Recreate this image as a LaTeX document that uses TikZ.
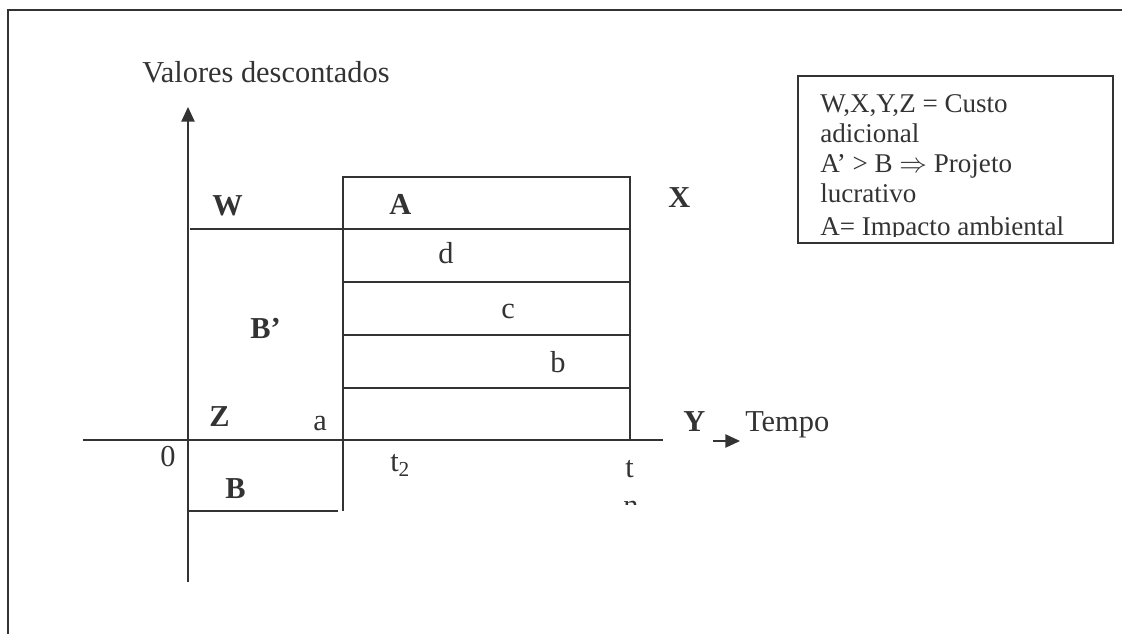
\documentclass[tikz,border=0pt]{standalone}
\usepackage{fontspec}
\setmainfont{Liberation Serif}
\usetikzlibrary{arrows.meta}
\definecolor{ink}{HTML}{333333}

\begin{document}
\begin{tikzpicture}[x=0.75pt,y=-0.75pt,
  rule/.style={draw=ink,line width=1.1pt},
  lbl/.style={font=\fontsize{22.8}{26}\selectfont,text=ink,inner sep=0pt,anchor=base west},
  blbl/.style={lbl,font=\fontsize{22.8}{26}\selectfont\bfseries},
  keytext/.style={font=\fontsize{20.3}{23}\selectfont,text=ink,inner sep=0pt,anchor=base west},
  head/.style={-{Triangle[length=11pt,width=10pt]}}]
\useasboundingbox (0,0) rectangle (1122,634);

% outer frame (top and left edges)
\coordinate (fl) at (8,634);
\coordinate (ftl) at (8,10);
\coordinate (ftr) at (1122,10);
\draw[rule] (fl) -- (ftl) -- (ftr);

% axes
\coordinate (o) at (188,440);
\coordinate (vbot) at (188,582);
\coordinate (vtop) at (188,107);
\coordinate (hl) at (83,440);
\coordinate (hr) at (663,440);
\draw[rule] (hl) -- (hr);
\draw[rule,head] (vbot) -- (vtop);

% stacked block between t2 and tn
\coordinate (k0) at (343,440);
\coordinate (k1) at (630,177);
\draw[rule] (k0) rectangle (k1);
\coordinate (w0) at (190,229);
\coordinate (w1) at (630,229);
\draw[rule] (w0) -- (w1);
\foreach \yy/\nm in {282/l2,335/l3,388/l4}{
  \coordinate (\nm a) at (343,\yy);
  \coordinate (\nm b) at (630,\yy);
  \draw[rule] (\nm a) -- (\nm b);
}

% negative part B
\coordinate (nb0) at (188,511);
\coordinate (nb1) at (338,511);
\coordinate (nv0) at (343,440);
\coordinate (nv1) at (343,511);
\draw[rule] (nb0) -- (nb1);
\draw[rule] (nv0) -- (nv1);

% time arrow
\coordinate (ta) at (713,441);
\coordinate (tb) at (740,441);
\draw[rule,head] (ta) -- (tb);

% labels
\node[lbl] (vlab) at (142,83) {Valores descontados};
\node[lbl] (tempo) at (745,432) {Tempo};
\node[blbl] (W) at (212,216) {W};
\node[blbl] (A) at (389,215) {A};
\node[blbl] (X) at (668,208) {X};
\node[blbl] (Bp) at (250,339) {B’};
\node[blbl] (Z) at (209,427) {Z};
\node[blbl] (B) at (225,499) {B};
\node[blbl] (Y) at (683,432) {Y};
\node[lbl] (d) at (438,264) {d};
\node[lbl] (c) at (501,319) {c};
\node[lbl] (b) at (550,373) {b};
\node[lbl] (a) at (313,431) {a};
\node[lbl] (zero) at (160,467) {0};
\node[lbl] (t2) at (390,472) {t\textsubscript{2}};
\node[lbl] (tn) at (625,478) {t};
\begin{scope}
  \clip (600,482) rectangle (660,505);
  \node[lbl] (tnsub) at (623,516) {n};
\end{scope}

% key box
\coordinate (kb0) at (798,76);
\coordinate (kb1) at (1113,243);
\draw[rule] (kb0) rectangle (kb1);
\begin{scope}
  \clip (800,78) rectangle (1111,237);
  \node[keytext] (k1t) at (820,113) {W,X,Y,Z = Custo};
  \node[keytext] (k2t) at (820,143) {adicional};
  \node[keytext] (k3t) at (820,173) {A’ > B $\Rightarrow$ Projeto};
  \node[keytext] (k4t) at (820,203) {lucrativo};
  \node[keytext] (k5t) at (820,236) {A= Impacto ambiental};
\end{scope}
\end{tikzpicture}
\end{document}
